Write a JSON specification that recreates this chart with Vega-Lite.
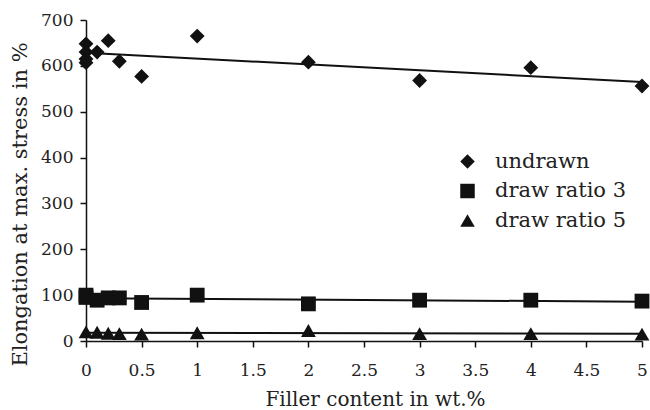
{
  "$schema": "https://vega.github.io/schema/vega-lite/v6.json",
  "autosize": "none",
  "width": 556,
  "height": 321,
  "padding": {"left": 86, "top": 20, "right": 8, "bottom": 69},
  "background": "white",
  "config": {
    "font": "DejaVu Serif",
    "view": {"stroke": null},
    "axis": {"grid": false, "domainColor": "#111", "tickColor": "#111", "labelColor": "#222", "titleColor": "#222", "labelFont": "DejaVu Serif", "titleFont": "DejaVu Serif", "labelFontSize": 17, "titleFontSize": 20, "titleFontWeight": "normal", "domainWidth": 1.5, "tickWidth": 1.5}
  },
  "data": {"values": [
    {"x": 0, "y": 648, "s": "undrawn"},
    {"x": 0, "y": 630, "s": "undrawn"},
    {"x": 0, "y": 615, "s": "undrawn"},
    {"x": 0, "y": 607, "s": "undrawn"},
    {"x": 0.1, "y": 630, "s": "undrawn"},
    {"x": 0.2, "y": 655, "s": "undrawn"},
    {"x": 0.3, "y": 610, "s": "undrawn"},
    {"x": 0.5, "y": 577, "s": "undrawn"},
    {"x": 1, "y": 665, "s": "undrawn"},
    {"x": 2, "y": 608, "s": "undrawn"},
    {"x": 3, "y": 568, "s": "undrawn"},
    {"x": 4, "y": 596, "s": "undrawn"},
    {"x": 5, "y": 556, "s": "undrawn"},
    {"x": 0, "y": 100, "s": "draw ratio 3"},
    {"x": 0, "y": 95, "s": "draw ratio 3"},
    {"x": 0.1, "y": 89, "s": "draw ratio 3"},
    {"x": 0.2, "y": 94, "s": "draw ratio 3"},
    {"x": 0.3, "y": 94, "s": "draw ratio 3"},
    {"x": 0.5, "y": 84, "s": "draw ratio 3"},
    {"x": 1, "y": 100, "s": "draw ratio 3"},
    {"x": 2, "y": 81, "s": "draw ratio 3"},
    {"x": 3, "y": 89, "s": "draw ratio 3"},
    {"x": 4, "y": 89, "s": "draw ratio 3"},
    {"x": 5, "y": 87, "s": "draw ratio 3"},
    {"x": 0, "y": 20, "s": "draw ratio 5"},
    {"x": 0.1, "y": 19, "s": "draw ratio 5"},
    {"x": 0.2, "y": 17, "s": "draw ratio 5"},
    {"x": 0.3, "y": 16, "s": "draw ratio 5"},
    {"x": 0.5, "y": 15, "s": "draw ratio 5"},
    {"x": 1, "y": 18, "s": "draw ratio 5"},
    {"x": 2, "y": 23, "s": "draw ratio 5"},
    {"x": 3, "y": 16, "s": "draw ratio 5"},
    {"x": 4, "y": 16, "s": "draw ratio 5"},
    {"x": 5, "y": 15, "s": "draw ratio 5"}
  ]},
  "layer": [
    {
      "transform": [{"regression": "y", "on": "x", "groupby": ["s"], "extent": [0, 5]}],
      "mark": {"type": "line", "color": "#111", "strokeWidth": 2},
      "encoding": {
        "x": {"field": "x", "type": "quantitative"},
        "y": {"field": "y", "type": "quantitative"},
        "detail": {"field": "s"}
      }
    },
    {
      "mark": {"type": "point", "filled": true, "color": "#111", "opacity": 1, "size": 220},
      "encoding": {
        "x": {"field": "x", "type": "quantitative", "scale": {"domain": [0, 5], "nice": false}, "axis": {"values": [0, 0.5, 1, 1.5, 2, 2.5, 3, 3.5, 4, 4.5, 5], "labelExpr": "datum.value", "tickSize": 6, "labelPadding": 15, "title": "Filler content in wt.%", "titleBaseline": "alphabetic", "titleY": 64, "titleX": 289, "titleAlign": "center", "labelFlush": false}},
        "y": {"field": "y", "type": "quantitative", "scale": {"domain": [0, 700], "nice": false}, "axis": {"values": [0, 100, 200, 300, 400, 500, 600, 700], "tickSize": 6, "labelPadding": 7, "title": "Elongation at max. stress in %", "titleFontSize": 21, "titleBaseline": "middle", "titleX": -66, "titleY": 184, "titleAlign": "center", "titleAngle": -90}},
        "shape": {"field": "s", "type": "nominal", "scale": {"domain": ["undrawn", "draw ratio 3", "draw ratio 5"], "range": ["diamond", "square", "triangle-up"]},
          "legend": {"title": null, "orient": "none", "legendX": 371, "legendY": 131, "labelFontSize": 21, "labelFont": "DejaVu Serif", "labelColor": "#222", "symbolSize": 210, "symbolFillColor": "#111", "symbolStrokeColor": "#111", "rowPadding": 7.5, "labelOffset": 17}}
      }
    }
  ]
}
